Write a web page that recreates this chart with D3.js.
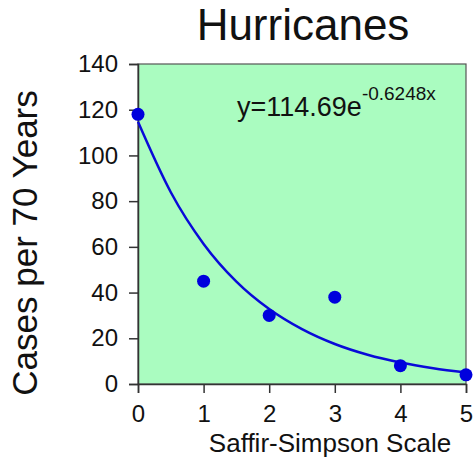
<!DOCTYPE html>
<html>
<head>
<meta charset="utf-8">
<script src="https://cdn.jsdelivr.net/npm/d3@7"></script>
<style>
  body { margin: 0; background: #fff; }
  text { font-family: "Liberation Sans", Arial, Helvetica, sans-serif; fill: #111; }
</style>
</head>
<body>
<svg id="chart" width="474" height="468"></svg>
<script>
// observed cases per category
var categories = [0, 1, 2, 3, 4, 5];
var cases = [118, 45, 30, 38, 8, 4];

// trend line, every half step
var trendX = [0, 0.5, 1, 1.5, 2, 2.5, 3, 3.5, 4, 4.5, 5];
var trendY = [114.7, 83.9, 61.3, 44.8, 32.8, 24.0, 17.5, 12.8, 9.4, 6.9, 5.0];

var xTicks = [0, 1, 2, 3, 4, 5];
var yTicks = [0, 20, 40, 60, 80, 100, 120, 140];

var svg = d3.select("#chart");
var plotL = 138, plotR = 466, plotT = 64, plotB = 384;

var x = d3.scaleLinear().domain([0, 5]).range([plotL, plotR]);
var y = d3.scaleLinear().domain([0, 140]).range([plotB, plotT]);

// plot background
svg.append("rect")
    .attr("x", plotL).attr("y", plotT)
    .attr("width", plotR - plotL).attr("height", plotB - plotT)
    .attr("fill", "#aafcc0")
    .attr("stroke", "#555").attr("stroke-width", 1.2);

// axes
var yAxis = d3.axisLeft(y).tickValues(yTicks).tickFormat(d3.format("d")).tickSize(9).tickPadding(11);
var xAxis = d3.axisBottom(x).tickValues(xTicks).tickFormat(d3.format("d")).tickSize(9).tickPadding(12);

var gy = svg.append("g").attr("transform", "translate(" + plotL + ",0)").call(yAxis);
var gx = svg.append("g").attr("transform", "translate(0," + plotB + ")").call(xAxis);

[gy, gx].forEach(function(g){
    g.select(".domain").attr("stroke", "#333").attr("stroke-width", 1.5);
    g.selectAll(".tick line").attr("stroke", "#333").attr("stroke-width", 1.5);
    g.selectAll(".tick text")
        .attr("font-size", 24)
        .attr("font-family", "Liberation Sans, Arial, sans-serif")
        .attr("fill", "#111");
});

// trend curve
var line = d3.line()
    .x(function(d, i){ return x(trendX[i]); })
    .y(function(d){ return y(d); })
    .curve(d3.curveMonotoneX);

svg.append("path")
    .datum(trendY)
    .attr("d", line)
    .attr("fill", "none")
    .attr("stroke", "#0a0ad8")
    .attr("stroke-width", 2.5);

// points
svg.selectAll("circle.pt")
    .data(cases)
    .enter().append("circle")
    .attr("class", "pt")
    .attr("cx", function(d, i){ return x(categories[i]); })
    .attr("cy", function(d){ return y(d); })
    .attr("r", 6.5)
    .attr("fill", "#0000dd");

// equation
var eq = svg.append("text")
    .attr("x", 237).attr("y", 116)
    .attr("font-size", 27);
eq.append("tspan").text("y=114.69e");
eq.append("tspan").attr("dy", -16).attr("font-size", 19).text("-0.6248x");

// title and axis labels
svg.append("text")
    .attr("x", 303).attr("y", 40)
    .attr("text-anchor", "middle")
    .attr("font-size", 44)
    .text("Hurricanes");

svg.append("text")
    .attr("x", 330).attr("y", 452)
    .attr("text-anchor", "middle")
    .attr("font-size", 26)
    .text("Saffir-Simpson Scale");

svg.append("text")
    .attr("transform", "translate(37,243) rotate(-90)")
    .attr("text-anchor", "middle")
    .attr("font-size", 35)
    .text("Cases per 70 Years");
</script>
</body>
</html>
